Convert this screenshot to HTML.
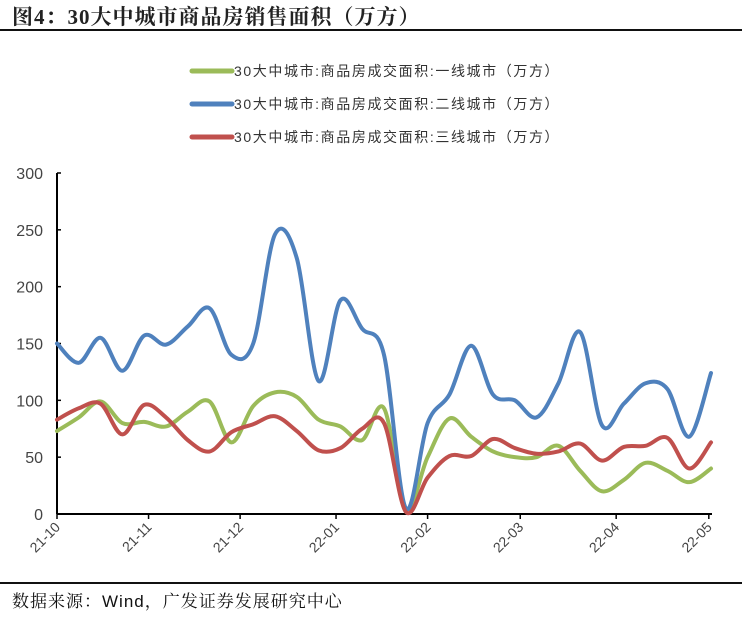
<!DOCTYPE html>
<html><head><meta charset="utf-8"><style>
body{margin:0;background:#fff;width:749px;height:627px;overflow:hidden;position:relative;font-family:"Liberation Sans","Noto Sans CJK SC",sans-serif}
#title{position:absolute;left:12px;top:1px;font-size:21px;letter-spacing:1px;font-weight:bold;font-family:"Liberation Serif","Noto Serif CJK SC",serif;color:#222}
#src{position:absolute;left:12px;top:587px;font-size:17px;letter-spacing:1px;color:#111;font-family:"Liberation Sans","Noto Serif CJK SC",serif}
</style></head><body>
<div id="title">图4：30大中城市商品房销售面积（万方）</div>
<div style="position:absolute;left:0;top:29px;width:742px;height:2px;background:#111"></div>
<div style="position:absolute;left:0;top:582px;width:742px;height:2px;background:#111"></div>
<div id="src">数据来源：Wind，广发证券发展研究中心</div>
<svg id="chart" width="749" height="627" style="position:absolute;left:0;top:0"></svg>
<script>
const xLabels=["21-10","21-11","21-12","22-01","22-02","22-03","22-04","22-05"];
const xLabelWeeks=[0,4.2,8.4,12.8,17,21.25,25.65,29.9];
const yTicks=[0,50,100,150,200,250,300];
const seriesNames=["30大中城市:商品房成交面积:一线城市（万方）","30大中城市:商品房成交面积:二线城市（万方）","30大中城市:商品房成交面积:三线城市（万方）"];
const tier1=[73,85,99,80,81,77,90,99,63,95,107,103,83,77,65,93,5,50,84,68,55,50,50,60,38,20,30,45,38,28,40];
const tier2=[150,133,155,126,157,149,165,181,140,150,246,225,117,188,163,140,5,80,105,148,105,100,85,115,160,78,97,115,110,68,124];
const tier3=[83,93,97,70,96,85,65,55,72,79,86,73,56,58,75,80,2,32,51,51,66,58,53,55,62,47,59,60,67,40,63];
const colors=["#9bbb59","#4f81bd","#c0504d"];
const svg=document.getElementById('chart');const NS="http://www.w3.org/2000/svg";
const X0=57,X1=711,Y0=514,Y1=173;
const xs=w=>X0+(X1-X0)*w/30;
const ys=v=>Y0-(Y0-Y1)*v/300;
function mk(t,a){const e=document.createElementNS(NS,t);for(const k in a)e.setAttribute(k,a[k]);svg.appendChild(e);return e;}
let ax=mk('line',{x1:X0,y1:Y1,x2:X0,y2:Y0,stroke:'#000','stroke-width':2});


let bx=mk('line',{x1:X0,y1:Y0,x2:X1+1,y2:Y0,stroke:'#000','stroke-width':2});


yTicks.forEach(v=>{
 mk('line',{x1:X0,y1:ys(v),x2:X0+4,y2:ys(v),stroke:'#000','stroke-width':1.5});
 const t=mk('text',{x:X0-14,y:ys(v)+6,'text-anchor':'end','font-size':16,fill:'#444'});t.textContent=v;
 
 
});
xLabels.forEach((l,i)=>{
 const x=xs(xLabelWeeks[i]);
 mk('line',{x1:x,y1:Y0,x2:x,y2:Y0+5,stroke:'#000','stroke-width':1.5});
 const t=mk('text',{x:x+4,y:Y0+14,'text-anchor':'end','font-size':14,fill:'#444',transform:`rotate(-45 ${x+4} ${Y0+14})`});t.textContent=l;
 
 
});
function path(d){const p=d.map((v,i)=>[xs(i),ys(v)]);let s=`M${p[0][0]},${p[0][1]}`;
 for(let i=0;i<p.length-1;i++){const a=p[i-1]||p[i],b=p[i],c=p[i+1],e=p[i+2]||c;
  s+=` C${b[0]+(c[0]-a[0])/6},${b[1]+(c[1]-a[1])/6} ${c[0]-(e[0]-b[0])/6},${c[1]-(e[1]-b[1])/6} ${c[0]},${c[1]}`;}
 return s;}
[tier1,tier2,tier3].forEach((d,i)=>{
 const p=mk('path',{d:path(d),fill:'none',stroke:colors[i],'stroke-width':4,'stroke-linejoin':'round','stroke-linecap':'round'});
 
 
});
const ly=[71,104,137];
seriesNames.forEach((n,i)=>{
 mk('line',{x1:192,y1:ly[i],x2:232,y2:ly[i],stroke:colors[i],'stroke-width':5,'stroke-linecap':'round'});
 const t=mk('text',{x:234,y:ly[i]+5,'font-size':14,'letter-spacing':1.6,fill:'#333'});t.textContent=n;
 
 
});
</script>
</body></html>
